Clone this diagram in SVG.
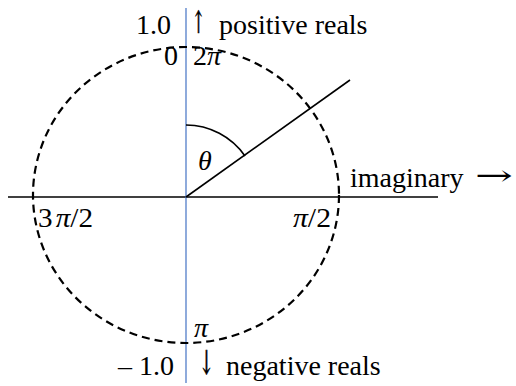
<svg xmlns="http://www.w3.org/2000/svg" width="516" height="386" viewBox="0 0 516 386">
<style>
text{font-family:"Liberation Serif","Times New Roman",serif;font-size:28px;fill:#000}
.i{font-style:italic}
.ar{font-family:"DejaVu Serif","DejaVu Sans",serif}
.circ{fill:none;stroke:#000;stroke-width:2.2;stroke-dasharray:8 5}
.ln{fill:none;stroke:#000;stroke-width:1.6}
</style>
<rect width="516" height="386" fill="#fff"/>
<g id="connectors">
<line x1="8" y1="197" x2="438" y2="197" stroke="#404040" stroke-width="1.8"/>
<line x1="186" y1="8" x2="186" y2="383" stroke="#4472C4" stroke-width="1.2"/>
<line class="ln" x1="186" y1="197" x2="350" y2="80"/>
<path class="ln" d="M186,125 A72,72 0 0 1 245,156"/>
</g>
<g id="circle"><ellipse class="circ" cx="186" cy="195" rx="153" ry="148"/></g>
<g id="labels">
<text x="136" y="34">1.0</text>
<text class="ar" x="192" y="33" style="font-size:31px;stroke:#000;stroke-width:0.6" textLength="13" lengthAdjust="spacingAndGlyphs">↑</text>
<text x="219" y="34">positive reals</text>
<text x="164" y="65">0</text>
<text x="193" y="65">2<tspan class="i">π</tspan></text>
<text class="i" x="198" y="170">θ</text>
<text x="350" y="187">imaginary</text>
<text class="ar" x="475" y="185" textLength="38" lengthAdjust="spacingAndGlyphs">→</text>
<text x="38" y="227" textLength="55" lengthAdjust="spacingAndGlyphs">3<tspan class="i" dx="3">π</tspan>/2</text>
<text x="293" y="227" textLength="38" lengthAdjust="spacingAndGlyphs"><tspan class="i">π</tspan>/2</text>
<text class="i" x="194" y="337">π</text>
<text x="118" y="375">– 1.0</text>
<text class="ar" x="199" y="374" style="font-size:33px;stroke:#000;stroke-width:0.6" textLength="15" lengthAdjust="spacingAndGlyphs">↓</text>
<text x="226" y="375">negative reals</text>
</g>
</svg>
